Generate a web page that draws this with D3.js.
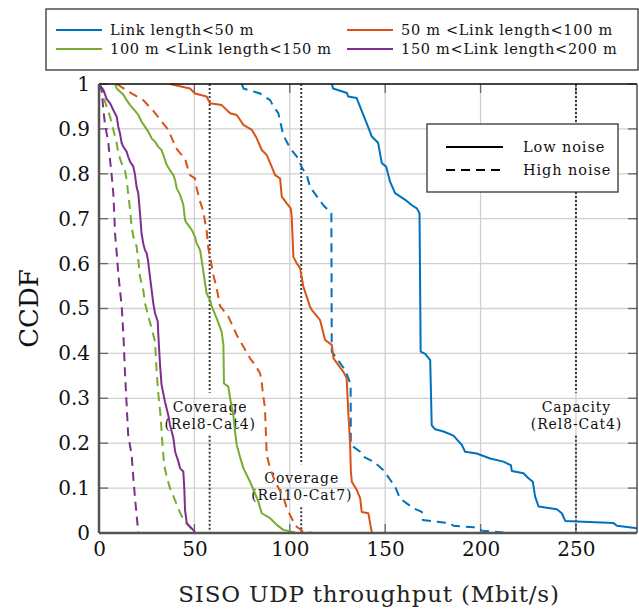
<!DOCTYPE html>
<html>
<head>
<meta charset="utf-8">
<script src="https://cdn.jsdelivr.net/npm/d3@7/dist/d3.min.js"></script>
<style>
  html, body { margin: 0; padding: 0; background: #fff; }
  svg { display: block; }
  svg text { font-family: "DejaVu Serif", "Liberation Serif", serif; }
</style>
</head>
<body>
<svg id="chart" width="639" height="610"></svg>
<script>
// CCDF of SISO UDP throughput per link-length bin, [throughput Mbit/s, CCDF]
const lt50Low = [[122,1],[122.7,0.99],[130,0.98],[130.6,0.972],[135,0.969],[137.7,0.94],[141,0.905],[143,0.883],[146.3,0.869],[148.2,0.824],[150.5,0.816],[152.6,0.782],[155.2,0.757],[160.5,0.742],[164,0.73],[166.6,0.723],[168,0.712],[168.6,0.404],[171,0.399],[173.6,0.385],[174.4,0.24],[176.2,0.231],[180.6,0.226],[185.8,0.217],[190.2,0.196],[191.9,0.181],[198,0.177],[205,0.166],[212,0.159],[215.9,0.151],[216.4,0.138],[222.5,0.133],[225.1,0.122],[227.4,0.114],[228.6,0.081],[230.4,0.059],[240,0.053],[242.6,0.044],[244.4,0.027],[269.7,0.022],[271.5,0.016],[285,0.009]];
const lt50High = [[74.8,1],[75.7,0.99],[84.4,0.979],[89.7,0.964],[91.4,0.95],[94,0.935],[96.6,0.886],[100.2,0.857],[104.5,0.834],[106.3,0.814],[108.9,0.797],[110.6,0.771],[115,0.745],[117.6,0.73],[120.2,0.719],[121.8,0.712],[122,0.404],[124.6,0.389],[129,0.363],[130.7,0.345],[131.9,0.33],[132,0.196],[136.9,0.181],[138.6,0.17],[143.9,0.159],[149.1,0.14],[150.9,0.129],[155.2,0.103],[157.8,0.077],[164.8,0.055],[169.2,0.047],[169.7,0.029],[177,0.025],[184,0.022],[185.8,0.016],[196.3,0.013],[198,0.01],[201,0.005],[212,0.001]];
const b50to100Low = [[37.2,1],[47.7,0.99],[50.3,0.979],[56.4,0.972],[58.2,0.957],[64.3,0.953],[68.7,0.935],[72.2,0.931],[75.7,0.909],[80.1,0.898],[82.7,0.879],[85.3,0.853],[87.9,0.842],[90.5,0.816],[92.3,0.797],[94.9,0.79],[95.8,0.749],[98.4,0.734],[100.5,0.723],[101,0.704],[101.9,0.615],[103.6,0.601],[105.4,0.59],[107.1,0.549],[108.9,0.526],[110.6,0.504],[111.5,0.497],[115.9,0.474],[118.5,0.43],[122,0.419],[122.9,0.389],[125.5,0.374],[128.1,0.359],[129.8,0.345],[130.7,0.267],[131.6,0.2],[132,0.14],[132.5,0.114],[135.1,0.096],[136.9,0.077],[137.7,0.047],[141.2,0.044],[142.1,0.022],[143,0.001]];
const b50to100High = [[9.3,1],[17.1,0.979],[23.2,0.964],[28.5,0.94],[33.7,0.912],[36.3,0.898],[39,0.871],[39.9,0.86],[42.5,0.846],[45.1,0.834],[46.8,0.808],[47.7,0.797],[50.3,0.79],[51.2,0.768],[53,0.738],[54.7,0.716],[55.6,0.693],[56.4,0.675],[57.3,0.634],[58.2,0.615],[59.9,0.575],[61.7,0.545],[63.4,0.506],[67.8,0.482],[72.2,0.441],[75.7,0.415],[79.2,0.389],[81.8,0.374],[84.4,0.356],[85.3,0.337],[85.8,0.315],[87,0.278],[87.9,0.174],[89.7,0.144],[92.3,0.114],[96.6,0.081],[98.4,0.055],[101,0.033],[103.6,0.014],[107.1,0.003],[112.4,0]];
const b100to150Low = [[8.4,1],[9.3,0.99],[12.8,0.976],[14.5,0.964],[16.3,0.953],[18.9,0.94],[20.6,0.931],[22.3,0.916],[24.1,0.905],[25.8,0.894],[27.6,0.879],[29.4,0.871],[31.1,0.86],[32.8,0.853],[34.6,0.831],[35.5,0.82],[37.2,0.808],[39,0.797],[39.9,0.786],[40.7,0.768],[42.5,0.753],[44.2,0.731],[45.1,0.697],[46,0.69],[48.6,0.675],[50.3,0.66],[51.2,0.645],[53,0.63],[53.8,0.608],[54.7,0.582],[55.6,0.556],[56.4,0.534],[57.3,0.526],[58.2,0.519],[59,0.506],[61.7,0.478],[64.3,0.448],[65.2,0.419],[65.5,0.333],[67.8,0.326],[68.7,0.3],[70.4,0.263],[71.3,0.226],[72.2,0.196],[73.9,0.17],[75.7,0.144],[79.2,0.114],[81.8,0.088],[83.5,0.07],[85.3,0.044],[89.7,0.033],[93.2,0.018],[96.6,0.007],[102.8,0.001]];
const b100to150High = [[0.5,1],[2.3,0.972],[4,0.949],[5.8,0.927],[7.5,0.898],[9.3,0.868],[10.1,0.846],[11.9,0.823],[13.6,0.808],[14.5,0.786],[15.3,0.756],[16.3,0.719],[17.1,0.682],[18,0.66],[19.7,0.638],[20.6,0.608],[21.5,0.571],[23.2,0.541],[24.1,0.512],[25.4,0.49],[27.6,0.456],[29.4,0.426],[30.2,0.36],[31.1,0.31],[32.4,0.255],[33.2,0.2],[34.2,0.15],[35.5,0.125],[37.2,0.1],[40.3,0.068],[42.5,0.045],[44.7,0.027],[48.6,0.009],[51,0.001]];
const b150to200Low = [[0,1],[2.3,0.987],[4,0.967],[5.8,0.957],[7.5,0.942],[9.3,0.927],[10.1,0.905],[11,0.89],[11.9,0.868],[12.8,0.86],[14.5,0.849],[15.3,0.838],[16.3,0.827],[18,0.816],[18.9,0.797],[19.7,0.771],[20.6,0.756],[21.5,0.712],[22.3,0.667],[23.2,0.645],[24.1,0.63],[25,0.623],[25.8,0.604],[26.7,0.571],[27.6,0.541],[28.5,0.51],[29.4,0.489],[30.8,0.471],[31.1,0.441],[32,0.374],[32.8,0.33],[34.6,0.292],[36.3,0.263],[37.2,0.241],[39,0.211],[39.9,0.181],[41.6,0.159],[42.5,0.144],[44.2,0.137],[44.7,0.1],[45.1,0.051],[46,0.022],[47.7,0.014],[49.4,0.007],[50.3,0.001]];
const b150to200High = [[0,1],[1.4,0.987],[2.3,0.942],[3.1,0.912],[4,0.89],[4.9,0.868],[5.8,0.831],[6.7,0.794],[7.5,0.756],[8,0.712],[8.4,0.667],[9.3,0.623],[10.1,0.578],[11,0.541],[11.9,0.506],[12.8,0.441],[13.6,0.359],[14.5,0.285],[15.3,0.218],[17.1,0.174],[18,0.122],[18.9,0.077],[19.7,0.04],[20.6,0.001]];

const binLabels = ["Link length<50 m", "50 m <Link length<100 m", "100 m <Link length<150 m", "150 m<Link length<200 m"];
const binColors = ["#0072BD", "#D95319", "#77AC30", "#7E2F8E"];
const noiseLabels = ["Low noise", "High noise"];
const xTicks = [0, 50, 100, 150, 200, 250];
const yTicks = [0, 0.1, 0.2, 0.3, 0.4, 0.5, 0.6, 0.7, 0.8, 0.9, 1];
// reference rates (Mbit/s) and the CCDF level where their labels sit
const refLines = [
  { x: 58, text: ["Coverage", "(Rel8-Cat4)"], y: 0.281 },
  { x: 106, text: ["Coverage", "(Rel10-Cat7)"], y: 0.122 },
  { x: 250, text: ["Capacity", "(Rel8-Cat4)"], y: 0.281 }
];

const series = [
  { data: lt50Low, bin: 0, high: false },
  { data: lt50High, bin: 0, high: true },
  { data: b50to100Low, bin: 1, high: false },
  { data: b50to100High, bin: 1, high: true },
  { data: b100to150Low, bin: 2, high: false },
  { data: b100to150High, bin: 2, high: true },
  { data: b150to200Low, bin: 3, high: false },
  { data: b150to200High, bin: 3, high: true }
];

const svg = d3.select("#chart");
const L = 99, R = 637, T = 84, B = 533;
const x = d3.scaleLinear().domain([0, 282]).range([L, R]);
const y = d3.scaleLinear().domain([0, 1]).range([B, T]);

svg.append("defs").append("clipPath").attr("id", "plotClip")
  .append("rect").attr("x", L).attr("y", T - 2).attr("width", R - L).attr("height", B - T + 4);

// grid
const grid = svg.append("g").attr("stroke", "#d0d0d0").attr("stroke-width", 1.3);
xTicks.forEach(t => grid.append("line").attr("x1", x(t)).attr("x2", x(t)).attr("y1", T).attr("y2", B));
yTicks.forEach(t => grid.append("line").attr("x1", L).attr("x2", R).attr("y1", y(t)).attr("y2", y(t)));

// inner tick marks on all four sides
const tickLen = 9;
const ticks = svg.append("g").attr("stroke", "#666").attr("stroke-width", 1.3);
xTicks.forEach(t => {
  ticks.append("line").attr("x1", x(t)).attr("x2", x(t)).attr("y1", B).attr("y2", B - tickLen);
  ticks.append("line").attr("x1", x(t)).attr("x2", x(t)).attr("y1", T).attr("y2", T + tickLen);
});
yTicks.forEach(t => {
  ticks.append("line").attr("x1", L).attr("x2", L + tickLen).attr("y1", y(t)).attr("y2", y(t));
  ticks.append("line").attr("x1", R).attr("x2", R - tickLen).attr("y1", y(t)).attr("y2", y(t));
});

// reference throughput lines, broken around their labels
refLines.forEach(r => {
  const cx = x(r.x), cy = y(r.y);
  const gapTop = cy - 14, gapBot = cy + 29;
  const g = svg.append("g").attr("stroke", "#3a3a3a").attr("stroke-width", 2).attr("stroke-dasharray", "2,2");
  g.append("line").attr("x1", cx).attr("x2", cx).attr("y1", T).attr("y2", gapTop);
  g.append("line").attr("x1", cx).attr("x2", cx).attr("y1", gapBot).attr("y2", B);
  r.text.forEach((s, i) => {
    svg.append("text").attr("x", cx + 0.5).attr("y", cy + 5 + i * 17)
      .attr("text-anchor", "middle").attr("font-size", 14).attr("letter-spacing", 0.9)
      .attr("fill", "#111").text(s);
  });
});

// CCDF curves
const line = d3.line().x(d => x(d[0])).y(d => y(d[1]));
const curves = svg.append("g").attr("clip-path", "url(#plotClip)");
series.forEach(s => {
  curves.append("path").datum(s.data)
    .attr("d", line).attr("fill", "none")
    .attr("stroke", binColors[s.bin]).attr("stroke-width", 2)
    .attr("stroke-linejoin", "round")
    .attr("stroke-dasharray", s.high ? "9,6" : null);
});

// frame
svg.append("line").attr("x1", L).attr("x2", R).attr("y1", T).attr("y2", T).attr("stroke", "#111").attr("stroke-width", 1.5);
svg.append("line").attr("x1", R).attr("x2", R).attr("y1", T).attr("y2", B).attr("stroke", "#333").attr("stroke-width", 1.3);
svg.append("line").attr("x1", L).attr("x2", L).attr("y1", T).attr("y2", B).attr("stroke", "#555").attr("stroke-width", 2.5);
svg.append("line").attr("x1", L).attr("x2", R).attr("y1", B).attr("y2", B).attr("stroke", "#555").attr("stroke-width", 2.5);

// axis labels
const xAxis = d3.axisBottom(x).tickValues(xTicks).tickSize(0).tickPadding(9).tickFormat(d3.format("d"));
const gx = svg.append("g").attr("transform", `translate(0,${B})`).call(xAxis);
gx.attr("font-family", null);
gx.select(".domain").remove();
gx.selectAll("text").attr("font-size", 20).attr("fill", "#111");

const yAxis = d3.axisLeft(y).tickValues(yTicks).tickSize(0).tickPadding(9).tickFormat(d => d === 0 || d === 1 ? String(d) : d3.format(".1f")(d));
const gy = svg.append("g").attr("transform", `translate(${L},0)`).call(yAxis);
gy.attr("font-family", null);
gy.select(".domain").remove();
gy.selectAll("text").attr("font-size", 20).attr("fill", "#111");

svg.append("text").attr("x", 369).attr("y", 602).attr("text-anchor", "middle")
  .attr("font-size", 23).attr("letter-spacing", 0.8).attr("fill", "#222").text("SISO UDP throughput (Mbit/s)");
svg.append("text").attr("transform", `translate(38,${(T + B) / 2}) rotate(-90)`).attr("text-anchor", "middle")
  .attr("font-size", 26).attr("fill", "#111").text("CCDF");

// bin legend
const lg = svg.append("g");
lg.append("rect").attr("x", 46).attr("y", 9).attr("width", 592).attr("height", 61)
  .attr("fill", "#fff").attr("stroke", "#333").attr("stroke-width", 1.3);
binLabels.forEach((lab, i) => {
  const col = i % 2, row = Math.floor(i / 2);
  const lx = col === 0 ? 56 : 347, ly = 30 + row * 19;
  lg.append("line").attr("x1", lx).attr("x2", lx + 46).attr("y1", ly).attr("y2", ly)
    .attr("stroke", binColors[i]).attr("stroke-width", 2);
  lg.append("text").attr("x", lx + 54).attr("y", ly + 5).attr("font-size", 14.5)
    .attr("letter-spacing", 0.7).attr("fill", "#111").text(lab);
});

// noise legend
const ng = svg.append("g");
ng.append("rect").attr("x", 427).attr("y", 124).attr("width", 191).attr("height", 68)
  .attr("fill", "#fff").attr("stroke", "#333").attr("stroke-width", 1.3);
noiseLabels.forEach((lab, i) => {
  const ly = 147 + i * 23;
  ng.append("line").attr("x1", 446).attr("x2", 503).attr("y1", ly).attr("y2", ly)
    .attr("stroke", "#000").attr("stroke-width", 2).attr("stroke-dasharray", i ? "9,6" : null);
  ng.append("text").attr("x", 523).attr("y", ly + 5).attr("font-size", 14.5)
    .attr("letter-spacing", 0.9).attr("fill", "#111").text(lab);
});
</script>
</body>
</html>
